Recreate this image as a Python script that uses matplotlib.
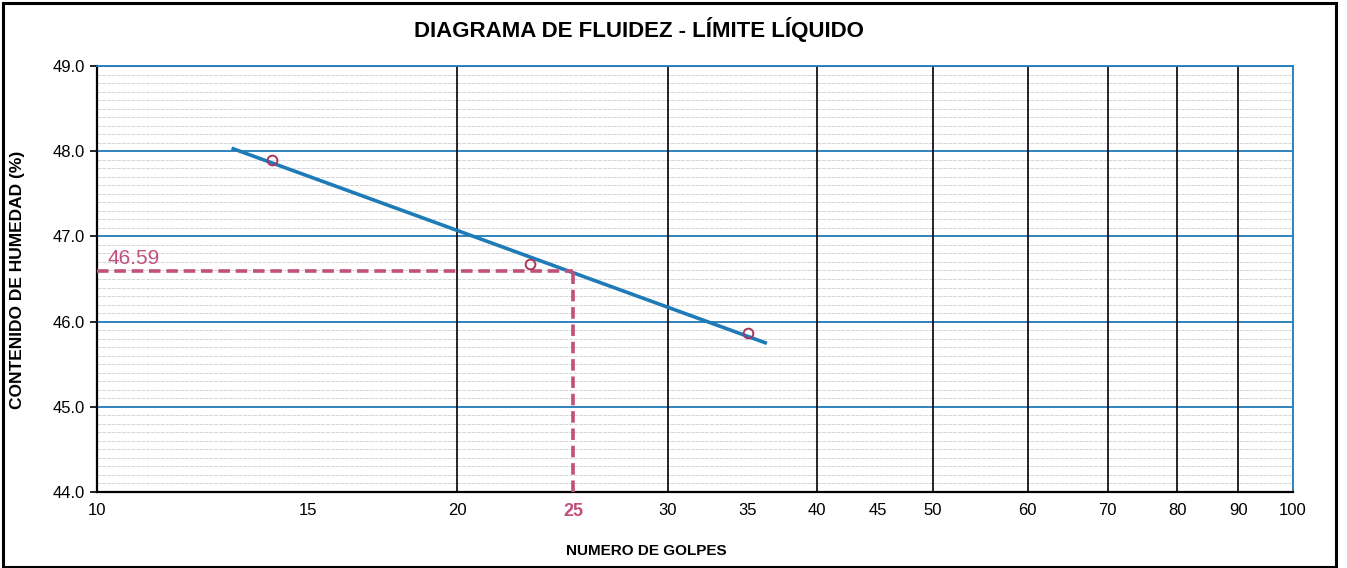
import numpy as np
import matplotlib
matplotlib.use("Agg")
import matplotlib.pyplot as plt
from matplotlib.ticker import FixedLocator, MultipleLocator, NullFormatter
from matplotlib.patches import Rectangle

plt.rcParams['font.family'] = ['Liberation Sans', 'DejaVu Sans']

# ensayo de limite liquido
golpes = [14, 23, 35]
humedad = [47.90, 46.68, 45.87]
trend_x = [13.0, 36.2]
golpes_ll = 25
ll_value = 46.59

x_ticks = [10, 15, 20, 25, 30, 35, 40, 45, 50, 60, 70, 80, 90, 100]
x_grid = [20, 30, 40, 50, 60, 70, 80, 90]
y_ticks = [44.0, 45.0, 46.0, 47.0, 48.0, 49.0]

blue = '#1f7bb8'
pink = '#c2507c'
marker_c = '#a8365e'

fig = plt.figure(figsize=(13.47, 5.68), dpi=100)
ax = fig.add_axes([97/1347, 76/568, 1196/1347, 426/568])

ax.set_xscale('log')
ax.set_xlim(10, 100)
ax.set_ylim(44, 49)

# rejilla
ax.yaxis.set_minor_locator(MultipleLocator(0.1))
ax.grid(which='minor', axis='y', color='#d6d6d6', lw=0.7, ls=(0, (4, 1)))
for yv in y_ticks[1:]:
    ax.axhline(yv, color=blue, lw=1.3, zorder=2)
for xv in x_grid:
    ax.axvline(xv, color='black', lw=1.2, zorder=2.1)

# linea de tendencia (ajuste log)
coef = np.polyfit(np.log10(golpes), humedad, 1)
tx = np.array(trend_x)
ax.plot(tx, np.polyval(coef, np.log10(tx)), color=blue, lw=2.6, zorder=3)

ax.plot(golpes, humedad, 'o', mfc='none', mec=marker_c, mew=1.4, ms=7, zorder=4)

# lectura a 25 golpes
ax.plot([10, golpes_ll], [ll_value, ll_value], color=pink, lw=2.6,
        dashes=(3.2, 1.6), zorder=3)
ax.plot([golpes_ll, golpes_ll], [44, ll_value], color=pink, lw=2.6,
        dashes=(3.2, 1.6), zorder=3)
ax.text(10.2, ll_value + 0.04, f"{ll_value:.2f}", color=pink, fontsize=15,
        va='bottom', ha='left')

ax.xaxis.set_major_locator(FixedLocator(x_ticks))
ax.xaxis.set_minor_locator(FixedLocator([]))
ax.xaxis.set_minor_formatter(NullFormatter())
ax.set_xticks(x_ticks)
ax.set_xticklabels([str(v) for v in x_ticks], fontsize=12)
for lbl, v in zip(ax.get_xticklabels(), x_ticks):
    if v == golpes_ll:
        lbl.set_color(pink)
        lbl.set_fontweight('bold')
        lbl.set_fontsize(13)
ax.tick_params(axis='x', length=0, pad=8)

ax.set_yticks(y_ticks)
ax.set_yticklabels([f"{v:.1f}" for v in y_ticks], fontsize=12)
ax.tick_params(axis='y', which='major', length=5, width=1.2, pad=4)
ax.tick_params(axis='y', which='minor', length=0)

ax.spines['left'].set_linewidth(1.6)
ax.spines['bottom'].set_linewidth(1.6)
ax.spines['top'].set_color(blue)
ax.spines['right'].set_color(blue)
ax.spines['top'].set_linewidth(1.3)
ax.spines['right'].set_linewidth(1.3)

fig.text(639/1347, 1 - 30/568, "DIAGRAMA DE FLUIDEZ - LÍMITE LÍQUIDO",
         fontweight='bold', fontsize=16, ha='center', va='center')
fig.text(646/1347, 1 - 551/568, "NUMERO DE GOLPES",
         fontweight='bold', fontsize=11, ha='center', va='center')
fig.text(18/1347, 1 - 280/568, "CONTENIDO DE HUMEDAD (%)",
         fontweight='bold', fontsize=12.5, rotation=90, ha='center', va='center')

fig.patches.append(Rectangle((3/1347, 1/568), 1333/1347, 564/568,
                             transform=fig.transFigure, fill=False,
                             ec='black', lw=2.2))

fig.savefig("out.png", dpi=100)
